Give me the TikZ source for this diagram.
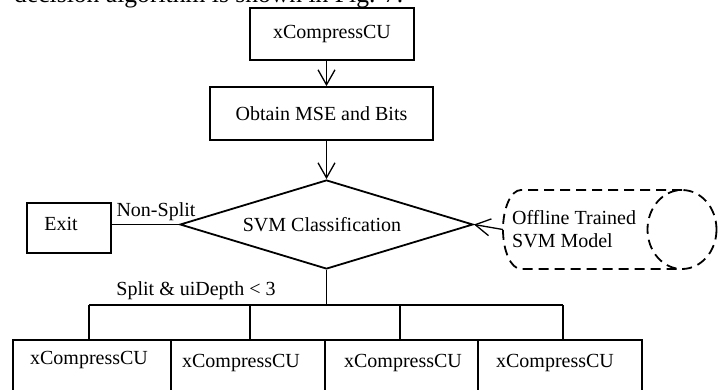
\documentclass[tikz,border=0pt]{standalone}
\usepackage{fontspec}
\setmainfont{Liberation Serif}
\usetikzlibrary{shapes.geometric,arrows.meta}
\begin{document}
\begin{tikzpicture}[x=1pt,y=-1pt,
  box/.style={draw, line width=1.8pt, inner sep=0pt, font=\fontsize{20}{23}\selectfont},
  lbl/.style={inner sep=0pt, font=\fontsize{20}{23}\selectfont},
  conn/.style={line width=1.3pt},
  arr/.style={conn, -{Straight Barb[length=15pt,width=17pt,line width=1.3pt]}},
  dashbox/.style={line width=1.8pt, dash pattern=on 10pt off 6pt}
]
\useasboundingbox (0,0) rectangle (723,390);
\clip (0,0) rectangle (723,390);

\node[lbl, anchor=base west, font=\fontsize{25.6}{28}\selectfont] (intro) at (14,3) {decision algorithm is shown in Fig. 7.};

\node[box, minimum width=164pt, minimum height=52pt] (A) at (332,34) {xCompressCU};
\node[box, minimum width=223pt, minimum height=53pt] (B) at (321.5,113.5) {Obtain MSE and Bits};
\node[box, diamond, minimum width=293pt, minimum height=89pt] (C) at (326.5,224.5) {};
\node[lbl] (Ct) at (322,225) {SVM Classification};
\node[box, minimum width=84pt, minimum height=50pt] (E) at (69,228) {};
\node[lbl] (Et) at (61,224) {Exit};
\node[lbl] (ns) at (156,212) {Non-Split};
\node[lbl] (sp) at (196,291) {Split \& uiDepth < 3};

% offline trained model (dashed cylinder)
\node[inner sep=0pt, minimum width=213pt, minimum height=79pt] (M) at (609.5,229.5) {};
\draw[dashbox] (682,190) -- (521,190) arc[start angle=270, end angle=90, x radius=18, y radius=39.5] -- (682,269);
\draw[dashbox] (682,229.5) ellipse [x radius=34.5, y radius=39.5];
\node[lbl, anchor=west, align=left] (Mt) at (512,229.5) {Offline Trained\\SVM Model};

% children
\node[box, minimum width=158pt, minimum height=70pt] (b1) at (92,375) {};
\node[box, minimum width=154pt, minimum height=70pt] (b2) at (248,375) {};
\node[box, minimum width=153pt, minimum height=70pt] (b3) at (401.5,375) {};
\node[box, minimum width=164pt, minimum height=70pt] (b4) at (560,375) {};
\node[lbl] (t1) at (89,360) {xCompressCU};
\node[lbl] (t2) at (241,363) {xCompressCU};
\node[lbl] (t3) at (403,363) {xCompressCU};
\node[lbl] (t4) at (555,363) {xCompressCU};

\coordinate (j) at (C.south |- 0,305);
\coordinate (d1) at (89,305);
\coordinate (d2) at (250,305);
\coordinate (d3) at (400,305);
\coordinate (d4) at (563,305);

\draw[arr] (A.south -| C.north) -- (B.north -| C.north);
\draw[arr] (B.south -| C.north) -- (C.north);
\draw[conn] (E.east |- C.west) -- (C.west);
\draw[arr] (M.west) -- (C.east);
\draw[conn] (C.south) -- (j);
\draw[conn] (d1) -- (d4);
\draw[conn] (d1) -- (d1 |- b1.north);
\draw[conn] (d2) -- (d2 |- b2.north);
\draw[conn] (d3) -- (d3 |- b3.north);
\draw[conn] (d4) -- (d4 |- b4.north);
\end{tikzpicture}
\end{document}
